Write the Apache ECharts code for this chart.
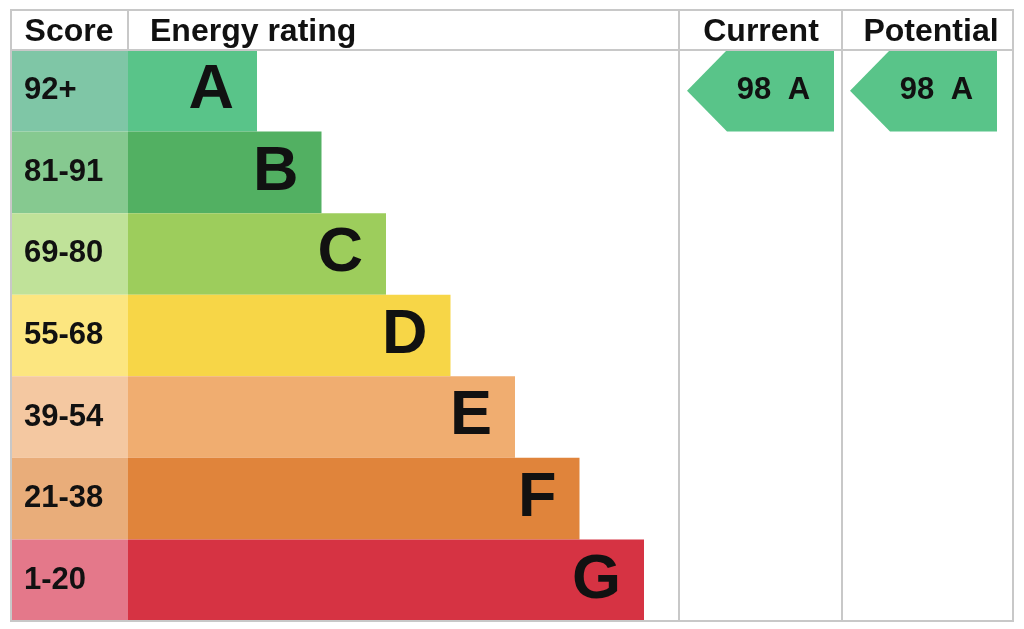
<!DOCTYPE html>
<html>
<head>
<meta charset="utf-8">
<script src="https://cdn.jsdelivr.net/npm/echarts@6/dist/echarts.min.js"></script>
<style>
html, body { margin: 0; padding: 0; background: #fff; }
#main { width: 1024px; height: 629px; }
</style>
</head>
<body>
<div id="main"></div>
<script>
// bands, top to bottom
var bands = ['A', 'B', 'C', 'D', 'E', 'F', 'G'];
var scoreRanges = ['92+', '81-91', '69-80', '55-68', '39-54', '21-38', '1-20'];
// bar length (in steps) of each band
var barLength = [2, 3, 4, 5, 6, 7, 8];
var bandColors = ['#59c489', '#52b062', '#9dcd5c', '#f7d647', '#f0ad70', '#e0843b', '#d63343'];
var scoreColors = ['#7fc6a6', '#86c990', '#c0e299', '#fce680', '#f4c8a1', '#e9ad7a', '#e4788a'];
// current / potential rating
var currentScore = 98, currentBand = 'A';
var potentialScore = 98, potentialBand = 'A';

var FONT = "'Liberation Sans', Arial, Helvetica, sans-serif";
var TOP = 50, H = 571;

var myChart = echarts.init(document.getElementById('main'));

function arrowItem(params, api) {
    var c = api.coord([api.value(0), api.value(1)]);
    var sz = api.size([0, 1]);
    var left = c[0] - sz[0] / 2 + 8;
    var right = left + 147;
    var top = c[1] - sz[1] / 2;
    var bot = top + sz[1];
    // category axis gives back the index of the band
    var band = bands[api.value(1)];
    var col = bandColors[api.value(1)];
    return {
        type: 'group',
        children: [{
            type: 'polygon',
            shape: { points: [[left, c[1]], [left + 40, top], [right, top], [right, bot], [left + 40, bot]] },
            style: { fill: col }
        }, {
            type: 'text',
            style: { text: String(api.value(2)), x: left + 67, y: c[1], align: 'center', verticalAlign: 'middle',
                font: 'bold 31px ' + FONT, fill: '#111' }
        }, {
            type: 'text',
            style: { text: band, x: left + 112, y: c[1], align: 'center', verticalAlign: 'middle',
                font: 'bold 31px ' + FONT, fill: '#111' }
        }]
    };
}

var lineCol = '#c8c8c8';
var headFont = 'bold 32px ' + FONT;

myChart.setOption({
    animation: false,
    grid: [
        { left: 11, top: TOP, width: 117, height: H },
        { left: 128, top: TOP, width: 580.5, height: H },
        { left: 679, top: TOP, width: 163, height: H },
        { left: 842, top: TOP, width: 171, height: H }
    ],
    xAxis: [
        { gridIndex: 0, type: 'value', min: 0, max: 1, show: false },
        { gridIndex: 1, type: 'value', min: 0, max: 9, show: false },
        { gridIndex: 2, type: 'category', data: ['Current'], show: false },
        { gridIndex: 3, type: 'category', data: ['Potential'], show: false }
    ],
    yAxis: [0, 1, 2, 3].map(function (g) {
        return { gridIndex: g, type: 'category', data: bands, inverse: true, show: false };
    }),
    series: [{
        type: 'bar',
        xAxisIndex: 0, yAxisIndex: 0,
        barWidth: '100%',
        data: scoreRanges.map(function (s, i) {
            return { value: 1, itemStyle: { color: scoreColors[i] } };
        }),
        label: {
            show: true, position: 'insideLeft', distance: 13,
            formatter: function (p) { return scoreRanges[p.dataIndex]; },
            fontFamily: FONT, fontSize: 31, fontWeight: 'bold', color: '#111'
        }
    }, {
        type: 'bar',
        xAxisIndex: 1, yAxisIndex: 1,
        barWidth: '100%',
        data: barLength.map(function (v, i) {
            return { value: v, itemStyle: { color: bandColors[i] } };
        }),
        label: {
            show: true, position: 'insideRight', distance: 23,
            formatter: function (p) { return bands[p.dataIndex]; },
            fontFamily: FONT, fontSize: 63, fontWeight: 'bold', color: '#111'
        }
    }, {
        type: 'custom',
        xAxisIndex: 2, yAxisIndex: 2,
        renderItem: arrowItem,
        data: [[0, currentBand, currentScore]]
    }, {
        type: 'custom',
        xAxisIndex: 3, yAxisIndex: 3,
        renderItem: arrowItem,
        data: [[0, potentialBand, potentialScore]]
    }],
    graphic: [
        { type: 'rect', shape: { x: 11, y: 10, width: 1002, height: 611 }, style: { fill: 'none', stroke: lineCol, lineWidth: 2 }, z: 100 },
        { type: 'line', shape: { x1: 11, y1: 50, x2: 1013, y2: 50 }, style: { stroke: lineCol, lineWidth: 2 }, z: 100 },
        { type: 'line', shape: { x1: 128, y1: 10, x2: 128, y2: 50 }, style: { stroke: lineCol, lineWidth: 2 }, z: 100 },
        { type: 'line', shape: { x1: 679, y1: 10, x2: 679, y2: 621 }, style: { stroke: lineCol, lineWidth: 2 }, z: 100 },
        { type: 'line', shape: { x1: 842, y1: 10, x2: 842, y2: 621 }, style: { stroke: lineCol, lineWidth: 2 }, z: 100 },
        { type: 'text', x: 69, y: 32, style: { text: 'Score', align: 'center', verticalAlign: 'middle', font: headFont, fill: '#111' } },
        { type: 'text', x: 150, y: 32, style: { text: 'Energy rating', align: 'left', verticalAlign: 'middle', font: headFont, fill: '#111' } },
        { type: 'text', x: 761, y: 32, style: { text: 'Current', align: 'center', verticalAlign: 'middle', font: headFont, fill: '#111' } },
        { type: 'text', x: 931, y: 32, style: { text: 'Potential', align: 'center', verticalAlign: 'middle', font: headFont, fill: '#111' } }
    ]
});
</script>
</body>
</html>
